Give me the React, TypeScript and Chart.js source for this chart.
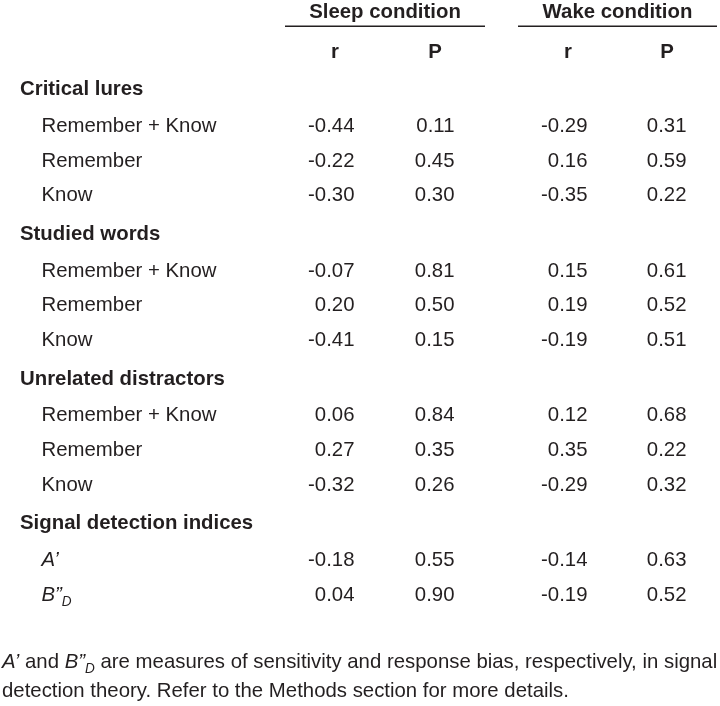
import React, { useEffect, useRef } from 'react';
import { Chart, registerables } from 'chart.js';

Chart.register(...registerables);

// ---------- data ----------
const conditions = ['Sleep condition', 'Wake condition'];
const statLabels = ['r', 'P'];
const groups = ['Critical lures', 'Studied words', 'Unrelated distractors', 'Signal detection indices'];
const measures = [
  ['Remember + Know', 'Remember', 'Know'],
  ['Remember + Know', 'Remember', 'Know'],
  ['Remember + Know', 'Remember', 'Know'],
  ['A’', 'B”_D'],
];
const italicGroups = [false, false, false, true];
const sleepR = [[-0.44, -0.22, -0.3], [-0.07, 0.2, -0.41], [0.06, 0.27, -0.32], [-0.18, 0.04]];
const sleepP = [[0.11, 0.45, 0.3], [0.81, 0.5, 0.15], [0.84, 0.35, 0.26], [0.55, 0.9]];
const wakeR = [[-0.29, 0.16, -0.35], [0.15, 0.19, -0.19], [0.12, 0.35, -0.29], [-0.14, -0.19]];
const wakeP = [[0.31, 0.59, 0.22], [0.61, 0.52, 0.51], [0.68, 0.22, 0.32], [0.63, 0.52]];
const footnoteLine1 = ['A’', ' and ', 'B”_D', ' are measures of sensitivity and response bias, respectively, in signal'];
const footnoteItalic1 = [true, false, true, false];
const footnoteLine2 = 'detection theory. Refer to the Methods section for more details.';

// ---------- layout ----------
const W = 720;
const H = 706;
const FONT = '"Liberation Sans", Arial, Helvetica, sans-serif';
const INK = '#231f20';
const FS = 21;
const SX = 0.97; // slight horizontal condensing of the type
const SUB_FS = 14;
const X_MIN = -3.35;
const X_MAX = 3.85;
const ROW0 = 90;
const ROW_STEP = 34.6;
const GROUP_GAP = 0.18; // extra space (in row units) before each later group
const HEADER_LIFT = 0.06; // group headings sit slightly higher
const Y_MIN = -ROW0 / ROW_STEP;
const Y_MAX = (H - ROW0) / ROW_STEP;
const COL_POS = [0, 1, 2.33, 3.32];
const NUM_SHIFT = 0.195;
const GROUP_X = -3.15;
const MEASURE_X = -2.935;
const COND_ROW = -2.312;
const RULE_ROW = -1.85;
const STAT_ROW = -1.156;
const FOOT1_ROW = 16.5;
const FOOT2_ROW = 17.34;
const FOOT_X = -3.33;

const columnsData = [sleepR, sleepP, wakeR, wakeP];

const groupRows: number[] = [];
const measureRows: number[][] = [];
{
  let idx = 0;
  groups.forEach((_, g) => {
    groupRows.push(idx + g * GROUP_GAP - HEADER_LIFT);
    idx++;
    measureRows.push(measures[g].map(() => idx++ + g * GROUP_GAP));
  });
}

function fillScaled(ctx: CanvasRenderingContext2D, text: string, x: number, y: number, align: 'left' | 'right' | 'center') {
  ctx.textAlign = 'left';
  ctx.textBaseline = 'alphabetic';
  const w = ctx.measureText(text).width * SX;
  const left = align === 'left' ? x : align === 'right' ? x - w : x - w / 2;
  ctx.save();
  ctx.translate(left, y);
  ctx.scale(SX, 1);
  ctx.fillText(text, 0, 0);
  ctx.restore();
  return left + w;
}

function drawSegments(ctx: CanvasRenderingContext2D, x: number, yc: number, text: string, italic: boolean, bold = false) {
  const parts = text.split('_');
  let cx = x;
  const base = yc + FS * 0.358;
  parts.forEach((p, i) => {
    const sub = i > 0;
    const size = sub ? SUB_FS : FS;
    ctx.font = `${italic ? 'italic ' : ''}${bold ? 'bold ' : ''}${size}px ${FONT}`;
    cx = fillScaled(ctx, p, cx, sub ? base + 5 : base, 'left');
  });
  return cx;
}

const tablePlugin = {
  id: 'tableText',
  afterDatasetsDraw(chart: any) {
    const ctx: CanvasRenderingContext2D = chart.ctx;
    const xs = chart.scales.x;
    const ys = chart.scales.y;
    const capOff = FS * 0.358;
    ctx.save();
    ctx.fillStyle = INK;
    ctx.strokeStyle = INK;

    conditions.forEach((c, i) => {
      const l = xs.getPixelForValue(COL_POS[i * 2] - 0.5);
      const r = xs.getPixelForValue(COL_POS[i * 2 + 1] + 0.5);
      ctx.font = `bold ${FS}px ${FONT}`;
      fillScaled(ctx, c, (l + r) / 2, ys.getPixelForValue(COND_ROW) + capOff, 'center');
      ctx.lineWidth = 1.5;
      ctx.beginPath();
      const yr = Math.round(ys.getPixelForValue(RULE_ROW)) + 0.25;
      ctx.moveTo(l, yr);
      ctx.lineTo(r, yr);
      ctx.stroke();
      statLabels.forEach((s, k) => {
        ctx.font = `bold ${FS}px ${FONT}`;
        fillScaled(ctx, s, xs.getPixelForValue(COL_POS[i * 2 + k]), ys.getPixelForValue(STAT_ROW) + capOff, 'center');
      });
    });

    groups.forEach((g, gi) => {
      ctx.font = `bold ${FS}px ${FONT}`;
      fillScaled(ctx, g, xs.getPixelForValue(GROUP_X), ys.getPixelForValue(groupRows[gi]) + capOff, 'left');
      measures[gi].forEach((m, mi) => {
        drawSegments(ctx, xs.getPixelForValue(MEASURE_X), ys.getPixelForValue(measureRows[gi][mi]), m, italicGroups[gi]);
      });
    });

    chart.data.datasets.forEach((ds: any, di: number) => {
      const meta = chart.getDatasetMeta(di);
      meta.data.forEach((el: any, k: number) => {
        const v = ds.data[k].v as number;
        const dx = xs.getPixelForValue(ds.data[k].x + NUM_SHIFT) - el.x;
        ctx.font = `${FS}px ${FONT}`;
        fillScaled(ctx, v.toFixed(2), el.x + dx, el.y + capOff, 'right');
      });
    });

    let fx = xs.getPixelForValue(FOOT_X);
    const f1 = ys.getPixelForValue(FOOT1_ROW);
    footnoteLine1.forEach((t, i) => {
      fx = drawSegments(ctx, fx, f1, t, footnoteItalic1[i]);
    });
    drawSegments(ctx, xs.getPixelForValue(FOOT_X), ys.getPixelForValue(FOOT2_ROW), footnoteLine2, false);

    ctx.restore();
  },
};

export default function App() {
  const ref = useRef<HTMLCanvasElement | null>(null);
  useEffect(() => {
    if (!ref.current) return;
    const datasets = columnsData.map((col, c) => ({
      label: `col${c}`,
      data: col.flatMap((gv, g) => gv.map((v, m) => ({ x: COL_POS[c], y: measureRows[g][m], v }))),
      pointRadius: 0,
      showLine: false,
    }));
    const chart = new Chart(ref.current, {
      type: 'scatter',
      data: { datasets } as any,
      options: {
        responsive: false,
        animation: false,
        events: [],
        layout: { padding: 0 },
        plugins: { legend: { display: false }, tooltip: { enabled: false } },
        scales: {
          x: { type: 'linear', display: false, min: X_MIN, max: X_MAX },
          y: { type: 'linear', display: false, reverse: true, min: Y_MIN, max: Y_MAX },
        },
      },
      plugins: [tablePlugin],
    });
    return () => chart.destroy();
  }, []);
  return (
    <div style={{ position: 'fixed', left: 0, top: 0, width: W, height: H, background: '#fff' }}>
      <canvas ref={ref} width={W} height={H} style={{ display: 'block' }} />
    </div>
  );
}
